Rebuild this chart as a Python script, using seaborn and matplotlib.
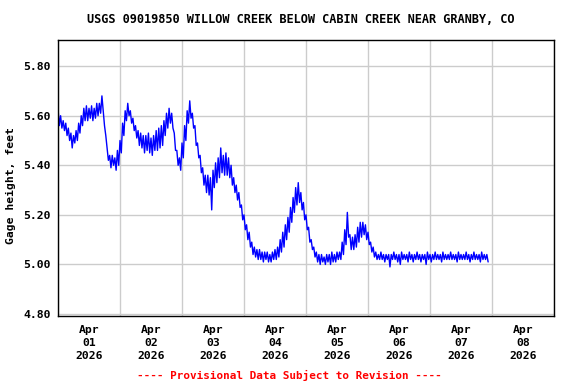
import pandas as pd
import numpy as np
import matplotlib.pyplot as plt
import matplotlib.dates as mdates
import seaborn as sns

# gage height readings, half-hourly from 2026-04-01 00:00 (one row = one hour: :00, :30)
day1 = [5.63, 5.56, 5.60, 5.55, 5.58, 5.54, 5.57, 5.52, 5.55, 5.50, 5.53, 5.47,
        5.52, 5.49, 5.54, 5.50, 5.57, 5.53, 5.60, 5.56, 5.63, 5.58, 5.64, 5.58,
        5.63, 5.59, 5.64, 5.58, 5.63, 5.59, 5.65, 5.60, 5.65, 5.61, 5.68, 5.62,
        5.56, 5.52, 5.47, 5.42, 5.44, 5.39, 5.44, 5.40, 5.43, 5.38, 5.46, 5.40]
day2 = [5.50, 5.45, 5.57, 5.52, 5.62, 5.58, 5.65, 5.60, 5.62, 5.57, 5.59, 5.54,
        5.56, 5.51, 5.54, 5.48, 5.53, 5.47, 5.52, 5.45, 5.52, 5.46, 5.53, 5.45,
        5.51, 5.44, 5.52, 5.46, 5.54, 5.46, 5.55, 5.47, 5.56, 5.48, 5.58, 5.52,
        5.61, 5.55, 5.63, 5.57, 5.61, 5.55, 5.53, 5.46, 5.46, 5.40, 5.43, 5.38]
day3 = [5.49, 5.43, 5.56, 5.50, 5.62, 5.57, 5.66, 5.59, 5.61, 5.55, 5.56, 5.48,
        5.49, 5.43, 5.44, 5.37, 5.39, 5.32, 5.36, 5.29, 5.36, 5.28, 5.35, 5.22,
        5.38, 5.31, 5.41, 5.33, 5.43, 5.35, 5.47, 5.37, 5.44, 5.36, 5.45, 5.36,
        5.43, 5.35, 5.40, 5.32, 5.35, 5.29, 5.32, 5.26, 5.29, 5.23, 5.24, 5.18]
day4 = [5.20, 5.14, 5.16, 5.10, 5.13, 5.07, 5.09, 5.04, 5.07, 5.03, 5.06, 5.02,
        5.06, 5.02, 5.05, 5.01, 5.05, 5.02, 5.05, 5.01, 5.04, 5.01, 5.05, 5.02,
        5.06, 5.02, 5.07, 5.03, 5.10, 5.05, 5.13, 5.07, 5.16, 5.10, 5.19, 5.13,
        5.23, 5.17, 5.27, 5.21, 5.31, 5.24, 5.33, 5.25, 5.29, 5.22, 5.25, 5.18]
day5 = [5.20, 5.14, 5.15, 5.09, 5.10, 5.06, 5.07, 5.03, 5.05, 5.01, 5.04, 5.00,
        5.04, 5.01, 5.03, 5.00, 5.04, 5.01, 5.04, 5.00, 5.05, 5.01, 5.04, 5.01,
        5.05, 5.02, 5.05, 5.02, 5.09, 5.04, 5.14, 5.08, 5.21, 5.11, 5.12, 5.06,
        5.11, 5.06, 5.12, 5.07, 5.15, 5.09, 5.17, 5.11, 5.17, 5.12, 5.16, 5.10]
day6 = [5.13, 5.08, 5.09, 5.05, 5.07, 5.03, 5.05, 5.02, 5.04, 5.02, 5.05, 5.02,
        5.04, 5.01, 5.04, 5.02, 5.04, 4.99, 5.04, 5.02, 5.05, 5.02, 5.04, 5.01,
        5.04, 5.00, 5.05, 5.02, 5.04, 5.02, 5.04, 5.01, 5.05, 5.02, 5.04, 5.01,
        5.04, 5.02, 5.05, 5.02, 5.04, 5.01, 5.04, 5.02, 5.04, 5.00, 5.05, 5.02]
day7 = [5.04, 5.01, 5.04, 5.02, 5.05, 5.02, 5.04, 5.02, 5.04, 5.01, 5.05, 5.02,
        5.04, 5.02, 5.04, 5.02, 5.05, 5.02, 5.04, 5.02, 5.04, 5.01, 5.05, 5.02,
        5.04, 5.02, 5.04, 5.02, 5.05, 5.02, 5.04, 5.01, 5.04, 5.02, 5.05, 5.02,
        5.04, 5.02, 5.04, 5.01, 5.05, 5.02, 5.04, 5.02, 5.04, 5.01]

gage = day1 + day2 + day3 + day4 + day5 + day6 + day7
times = pd.date_range('2026-04-01 00:00', periods=len(gage), freq='30min')
df = pd.DataFrame({'time': times, 'gage': gage})

yticks = [4.80, 5.00, 5.20, 5.40, 5.60, 5.80]

sns.set_theme(style='white')
plt.rcParams['font.family'] = ['DejaVu Sans Mono']
plt.rcParams['font.weight'] = 'bold'
plt.rcParams['text.color'] = 'black'
plt.rcParams['axes.labelcolor'] = 'black'

fig = plt.figure(figsize=(5.76, 3.84), dpi=100)
ax = fig.add_axes([58/576, 1 - 315.5/384, 496/576, 276/384])

sns.lineplot(data=df, x='time', y='gage', color='#0000ff', linewidth=1.0, ax=ax)

ax.set_xlim(pd.Timestamp('2026-04-01'), pd.Timestamp('2026-04-09'))
ax.set_ylim(4.794, 5.9075)
ax.set_yticks(yticks)
ax.set_yticklabels([f'{v:.2f}' for v in yticks], fontsize=8.2, fontweight='bold')

ax.xaxis.set_major_locator(mdates.HourLocator(byhour=[12]))
ax.xaxis.set_major_formatter(mdates.DateFormatter('%b\n%d\n%Y'))
ax.xaxis.set_minor_locator(mdates.DayLocator())
ax.tick_params(axis='both', which='both', length=0, pad=5, colors='black')
ax.tick_params(axis='x', which='major', pad=7)
fig.canvas.draw()
for lab in ax.get_xticklabels():
    lab.set_fontsize(8.2)
    lab.set_fontweight('bold')
    lab.set_linespacing(1.35)

ax.grid(False)
ax.yaxis.grid(True, color='#cccccc', linewidth=1)
ax.xaxis.grid(True, which='minor', color='#cccccc', linewidth=1)
ax.set_axisbelow(True)
for s in ax.spines.values():
    s.set_color('black')
    s.set_linewidth(1)

ax.set_xlabel('')
ax.set_ylabel('Gage height, feet', fontsize=8.2, fontweight='bold')
ax.yaxis.set_label_coords(-0.085, 0.47)

fig.text(0.522, 0.95, 'USGS 09019850 WILLOW CREEK BELOW CABIN CREEK NEAR GRANBY, CO',
         ha='center', va='center', fontsize=8.6, fontweight='bold')
fig.text(0.503, 0.023, '---- Provisional Data Subject to Revision ----',
         ha='center', va='center', fontsize=7.9, fontweight='bold', color='red')

fig.savefig('out.png', dpi=100)
